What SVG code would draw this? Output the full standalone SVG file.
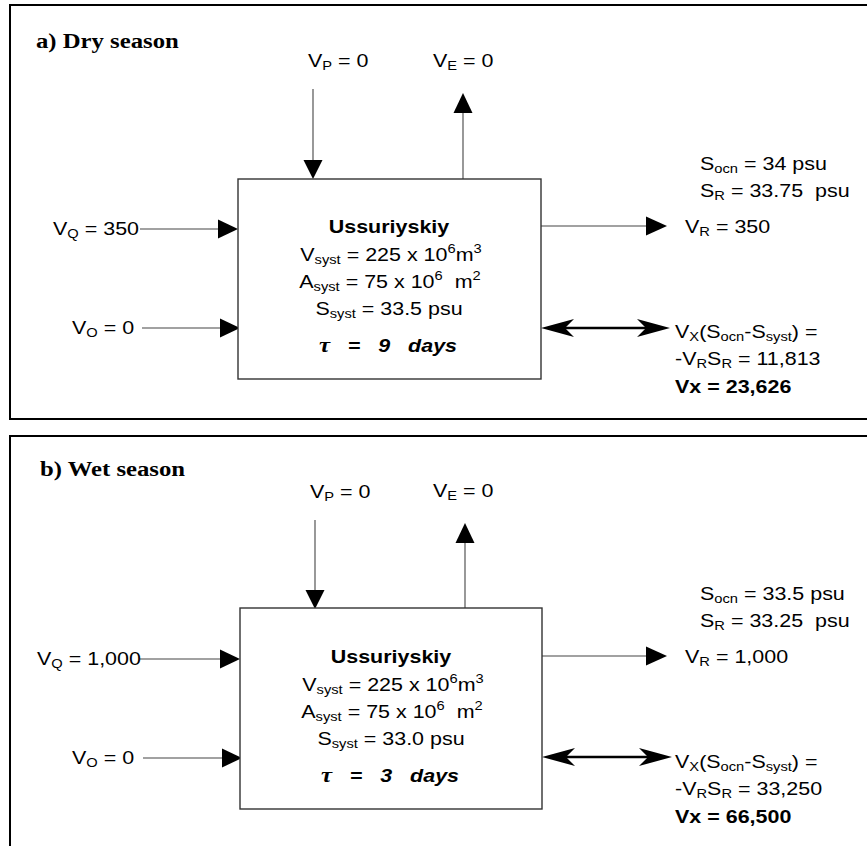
<svg xmlns="http://www.w3.org/2000/svg" width="867" height="846" viewBox="0 0 867 846">
  <style>
    .frame { fill: none; stroke: #000; stroke-width: 2; }
    .box { fill: #fff; stroke: #333; stroke-width: 1.4; }
    .wire { stroke: #444; stroke-width: 1.1; fill: none; }
    .wire2 { stroke: #000; stroke-width: 2.6; fill: none; }
    .head { fill: #000; stroke: none; }
    .t { font-family: "Liberation Sans", Arial, sans-serif; font-size: 19px; fill: #000; }
    .b { font-weight: bold; }
    .mid { text-anchor: middle; }
    .title { font-family: "Liberation Serif", "Times New Roman", serif; font-size: 21.5px; font-weight: bold; fill: #000; }
    .sm { font-size: 13px; }
    .tau { font-weight: bold; font-style: italic; }
    .greek { font-family: "Liberation Serif", "Times New Roman", serif; font-size: 22px; }
  </style>

  <!-- ===================== a) Dry season ===================== -->
  <g id="panel-a">
    <path class="frame" d="M867,5 H10 V419 H867"/>
    <text class="title" transform="translate(36,48) scale(1.15,1)">a) Dry season</text>
  </g>

  <g id="connectors-a">
    <!-- precipitation in -->
    <line class="wire" x1="313" y1="89" x2="313" y2="162"/>
    <polygon class="head" points="303.5,160 322.5,160 313,179"/>
    <!-- evaporation out -->
    <line class="wire" x1="463" y1="179" x2="463" y2="111"/>
    <polygon class="head" points="453.5,113 472.5,113 463,93"/>
    <!-- river inflow -->
    <line class="wire" x1="140" y1="229" x2="220" y2="229"/>
    <polygon class="head" points="218,219.5 218,238.5 238,229"/>
    <!-- other inflow -->
    <line class="wire" x1="142" y1="328" x2="222" y2="328"/>
    <polygon class="head" points="220,318.5 220,337.5 240,328"/>
    <!-- residual outflow -->
    <line class="wire" x1="541" y1="226" x2="648" y2="226"/>
    <polygon class="head" points="646,216.5 646,235.5 667,226"/>
    <!-- exchange -->
    <line class="wire2" x1="562" y1="328" x2="650" y2="328"/>
    <path class="head" d="M541,328 L574,319 L565,328 L574,337 Z"/>
    <path class="head" d="M670,328 L637,319 L646,328 L637,337 Z"/>
  </g>

  <g id="system-a">
    <rect class="box" x="238" y="179" width="303" height="200"/>
    <text class="t b mid" transform="translate(389,233) scale(1.13,1)">Ussuriyskiy</text>
    <text class="t mid" transform="translate(391,261) scale(1.13,1)">V<tspan class="sm" dy="3">syst</tspan><tspan dy="-3"> = 225 x 10</tspan><tspan class="sm" dy="-8">6</tspan><tspan dy="8">m</tspan><tspan class="sm" dy="-8">3</tspan></text>
    <text class="t mid" transform="translate(390,288) scale(1.13,1)">A<tspan class="sm" dy="3">syst</tspan><tspan dy="-3"> = 75 x 10</tspan><tspan class="sm" dy="-8">6</tspan><tspan dy="8">&#160; m</tspan><tspan class="sm" dy="-8">2</tspan></text>
    <text class="t mid" transform="translate(389,315) scale(1.13,1)">S<tspan class="sm" dy="3">syst</tspan><tspan dy="-3"> = 33.5 psu</tspan></text>
    <text class="t tau mid" transform="translate(388,352) scale(1.13,1)"><tspan class="greek">τ</tspan>&#160;&#160; =&#160;&#160; 9&#160;&#160; days</text>
  </g>

  <g id="label-vp-a"><text class="t" transform="translate(308,67) scale(1.13,1)">V<tspan class="sm" dy="3">P</tspan><tspan dy="-3"> = 0</tspan></text></g>
  <g id="label-ve-a"><text class="t" transform="translate(433,67) scale(1.13,1)">V<tspan class="sm" dy="3">E</tspan><tspan dy="-3"> = 0</tspan></text></g>
  <g id="label-salinity-a">
    <text class="t" transform="translate(700,170) scale(1.13,1)">S<tspan class="sm" dy="3">ocn</tspan><tspan dy="-3"> = 34 psu</tspan></text>
    <text class="t" transform="translate(700,197) scale(1.13,1)">S<tspan class="sm" dy="3">R</tspan><tspan dy="-3"> = 33.75&#160; psu</tspan></text>
  </g>
  <g id="label-vr-a"><text class="t" transform="translate(685,233) scale(1.13,1)">V<tspan class="sm" dy="3">R</tspan><tspan dy="-3"> = 350</tspan></text></g>
  <g id="label-vq-a"><text class="t" transform="translate(53,235) scale(1.13,1)">V<tspan class="sm" dy="3">Q</tspan><tspan dy="-3"> = 350</tspan></text></g>
  <g id="label-vo-a"><text class="t" transform="translate(72,334) scale(1.13,1)">V<tspan class="sm" dy="3">O</tspan><tspan dy="-3"> = 0</tspan></text></g>
  <g id="label-vx-a">
    <text class="t" transform="translate(675,338) scale(1.13,1)">V<tspan class="sm" dy="3">X</tspan><tspan dy="-3">(S</tspan><tspan class="sm" dy="3">ocn</tspan><tspan dy="-3">-S</tspan><tspan class="sm" dy="3">syst</tspan><tspan dy="-3">) =</tspan></text>
    <text class="t" transform="translate(675,365) scale(1.13,1)">-V<tspan class="sm" dy="3">R</tspan><tspan dy="-3">S</tspan><tspan class="sm" dy="3">R</tspan><tspan dy="-3"> = 11,813</tspan></text>
    <text class="t b" transform="translate(675,393) scale(1.13,1)">Vx = 23,626</text>
  </g>

  <!-- ===================== b) Wet season ===================== -->
  <g id="panel-b">
    <path class="frame" d="M867,436 H10 V846"/>
    <text class="title" transform="translate(40,476) scale(1.15,1)">b) Wet season</text>
  </g>

  <g id="connectors-b">
    <line class="wire" x1="315" y1="520" x2="315" y2="592"/>
    <polygon class="head" points="305.5,590 324.5,590 315,609"/>
    <line class="wire" x1="465" y1="608" x2="465" y2="541"/>
    <polygon class="head" points="455.5,543 474.5,543 465,523"/>
    <line class="wire" x1="140" y1="659" x2="222" y2="659"/>
    <polygon class="head" points="220,649.5 220,668.5 240,659"/>
    <line class="wire" x1="143" y1="758" x2="224" y2="758"/>
    <polygon class="head" points="222,748.5 222,767.5 242,758"/>
    <line class="wire" x1="542" y1="656" x2="648" y2="656"/>
    <polygon class="head" points="646,646.5 646,665.5 667,656"/>
    <line class="wire2" x1="563" y1="757" x2="652" y2="757"/>
    <path class="head" d="M542,757 L575,748 L566,757 L575,766 Z"/>
    <path class="head" d="M672,757 L639,748 L648,757 L639,766 Z"/>
  </g>

  <g id="system-b">
    <rect class="box" x="240" y="608" width="302" height="201"/>
    <text class="t b mid" transform="translate(391,663) scale(1.13,1)">Ussuriyskiy</text>
    <text class="t mid" transform="translate(393,691) scale(1.13,1)">V<tspan class="sm" dy="3">syst</tspan><tspan dy="-3"> = 225 x 10</tspan><tspan class="sm" dy="-8">6</tspan><tspan dy="8">m</tspan><tspan class="sm" dy="-8">3</tspan></text>
    <text class="t mid" transform="translate(392,718) scale(1.13,1)">A<tspan class="sm" dy="3">syst</tspan><tspan dy="-3"> = 75 x 10</tspan><tspan class="sm" dy="-8">6</tspan><tspan dy="8">&#160; m</tspan><tspan class="sm" dy="-8">2</tspan></text>
    <text class="t mid" transform="translate(391,745) scale(1.13,1)">S<tspan class="sm" dy="3">syst</tspan><tspan dy="-3"> = 33.0 psu</tspan></text>
    <text class="t tau mid" transform="translate(390,782) scale(1.13,1)"><tspan class="greek">τ</tspan>&#160;&#160; =&#160;&#160; 3&#160;&#160; days</text>
  </g>

  <g id="label-vp-b"><text class="t" transform="translate(310,498) scale(1.13,1)">V<tspan class="sm" dy="3">P</tspan><tspan dy="-3"> = 0</tspan></text></g>
  <g id="label-ve-b"><text class="t" transform="translate(433,497) scale(1.13,1)">V<tspan class="sm" dy="3">E</tspan><tspan dy="-3"> = 0</tspan></text></g>
  <g id="label-salinity-b">
    <text class="t" transform="translate(700,600) scale(1.13,1)">S<tspan class="sm" dy="3">ocn</tspan><tspan dy="-3"> = 33.5 psu</tspan></text>
    <text class="t" transform="translate(700,627) scale(1.13,1)">S<tspan class="sm" dy="3">R</tspan><tspan dy="-3"> = 33.25&#160; psu</tspan></text>
  </g>
  <g id="label-vr-b"><text class="t" transform="translate(685,663) scale(1.13,1)">V<tspan class="sm" dy="3">R</tspan><tspan dy="-3"> = 1,000</tspan></text></g>
  <g id="label-vq-b"><text class="t" transform="translate(37,665) scale(1.13,1)">V<tspan class="sm" dy="3">Q</tspan><tspan dy="-3"> = 1,000</tspan></text></g>
  <g id="label-vo-b"><text class="t" transform="translate(72,764) scale(1.13,1)">V<tspan class="sm" dy="3">O</tspan><tspan dy="-3"> = 0</tspan></text></g>
  <g id="label-vx-b">
    <text class="t" transform="translate(675,768) scale(1.13,1)">V<tspan class="sm" dy="3">X</tspan><tspan dy="-3">(S</tspan><tspan class="sm" dy="3">ocn</tspan><tspan dy="-3">-S</tspan><tspan class="sm" dy="3">syst</tspan><tspan dy="-3">) =</tspan></text>
    <text class="t" transform="translate(675,795) scale(1.13,1)">-V<tspan class="sm" dy="3">R</tspan><tspan dy="-3">S</tspan><tspan class="sm" dy="3">R</tspan><tspan dy="-3"> = 33,250</tspan></text>
    <text class="t b" transform="translate(675,823) scale(1.13,1)">Vx = 66,500</text>
  </g>
</svg>
